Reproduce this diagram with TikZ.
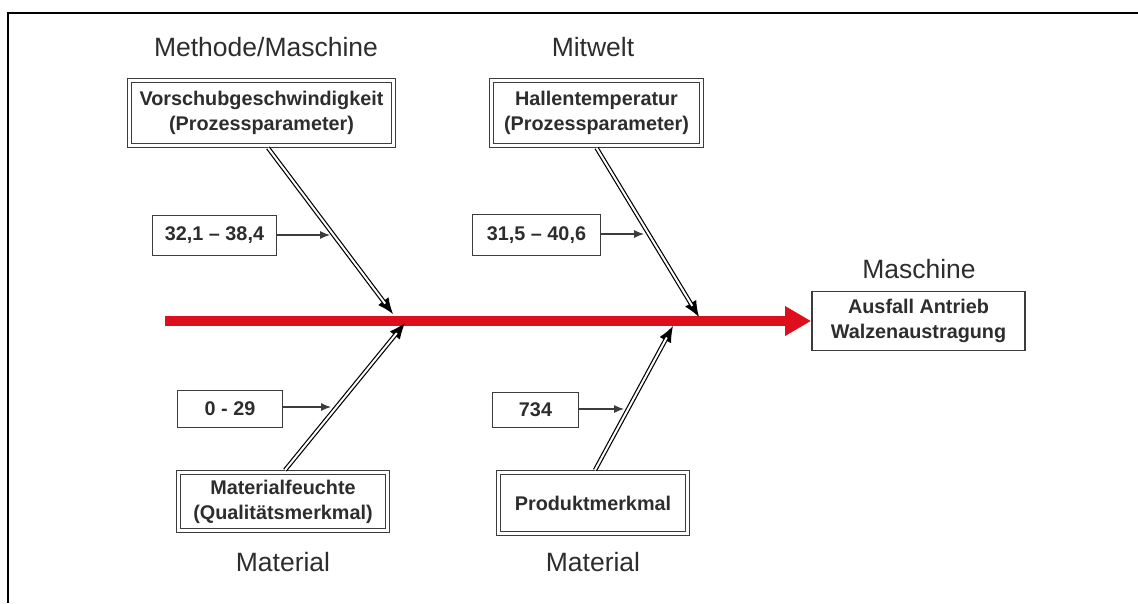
\documentclass[tikz,border=0pt]{standalone}
\usepackage{fontspec}
\setmainfont{Liberation Sans}
\usetikzlibrary{arrows.meta}
\definecolor{spinered}{RGB}{222,14,28}
\definecolor{boxgray}{RGB}{60,60,60}
\definecolor{txtgray}{RGB}{45,45,45}
\tikzset{
  cause/.style={draw=boxgray, line width=1.1pt, double=white, double distance=2.4pt,
    fill=white, align=center, inner sep=0pt, outer sep=2.4pt, text=txtgray,
    font=\bfseries\fontsize{19.8}{25}\selectfont},
  value/.style={draw=boxgray, line width=1.3pt, fill=white, align=center,
    inner sep=0pt, text=txtgray, font=\bfseries\fontsize{19.8}{25}\selectfont},
  heading/.style={text=txtgray, inner sep=0pt, font=\fontsize{26.5}{30}\selectfont},
}
% bone = thin line with the tip, then the double shaft over it
\def\drawbone#1#2{\draw[line width=1pt, -{Latex[length=16pt,width=13pt]}] (#1) -- (#2);
  \draw[line width=1.2pt, double=white, double distance=2pt, shorten >=13pt] (#1) -- (#2);}
\def\drawvalue{\draw[line width=1.1pt, boxgray, -{Latex[length=10pt,width=8pt]}]}

\begin{document}
\begin{tikzpicture}[x=1pt,y=-1pt]
\useasboundingbox (0,0) rectangle (1138,603);
\draw[line width=2.5pt] (8,603) -- (8,13) -- (1138,13);

% category headings
\node[heading] (hmeth) at (266,47) {Methode/Maschine};
\node[heading] (hmit) at (593,47) {Mitwelt};
\node[heading] (hmasch) at (919,269) {Maschine};
\node[heading] (hmat1) at (283,562) {Material};
\node[heading] (hmat2) at (593,562) {Material};

% effect and spine
\node[value, line width=1.8pt, minimum width=213pt, minimum height=59pt] (effect) at (918.5,321) {Ausfall Antrieb\\Walzenaustragung};
\coordinate (tail) at (165,321);
\draw[spinered, line width=10pt, -{Triangle[length=26pt,width=28pt]}] (tail) -- (tail -| effect.west);

% causes
\node[cause, minimum width=264pt, minimum height=65pt] (speed) at (261.5,113) {Vorschubgeschwindigkeit\\(Prozessparameter)};
\node[cause, minimum width=210pt, minimum height=65pt] (hall) at (596.5,113) {Hallentemperatur\\(Prozessparameter)};
\node[cause, minimum width=209pt, minimum height=58pt] (moist) at (283,501.5) {Materialfeuchte\\(Qualitätsmerkmal)};
\node[cause, minimum width=189pt, minimum height=61pt] (prod) at (593,503) {Produktmerkmal};

% measured values
\node[value, minimum width=124pt, minimum height=40pt] (vspeed) at (214.5,235.5) {32,1 – 38,4};
\node[value, minimum width=128pt, minimum height=41pt] (vhall) at (536.5,235) {31,5 – 40,6};
\node[value, minimum width=105pt, minimum height=37pt] (vmoist) at (230,409) {0 - 29};
\node[value, minimum width=86pt, minimum height=35pt] (vprod) at (535.5,410) {734};

% bones
\coordinate (tspeed) at (393,314);
\coordinate (thall) at (699,317);
\coordinate (tmoist) at (405,323);
\coordinate (tprod) at (673,326);
\drawbone{[xshift=6.5pt]speed.south}{tspeed}
\drawbone{hall.south}{thall}
\drawbone{[xshift=2pt]moist.north}{tmoist}
\drawbone{[xshift=2pt]prod.north}{tprod}

% values onto the bones
\coordinate (aspeed) at (330,235);
\coordinate (ahall) at (644,234);
\coordinate (amoist) at (331,407);
\coordinate (aprod) at (624,409);
\drawvalue (vspeed.east |- aspeed) -- (aspeed);
\drawvalue (vhall.east |- ahall) -- (ahall);
\drawvalue (vmoist.east |- amoist) -- (amoist);
\drawvalue (vprod.east |- aprod) -- (aprod);
\end{tikzpicture}
\end{document}
